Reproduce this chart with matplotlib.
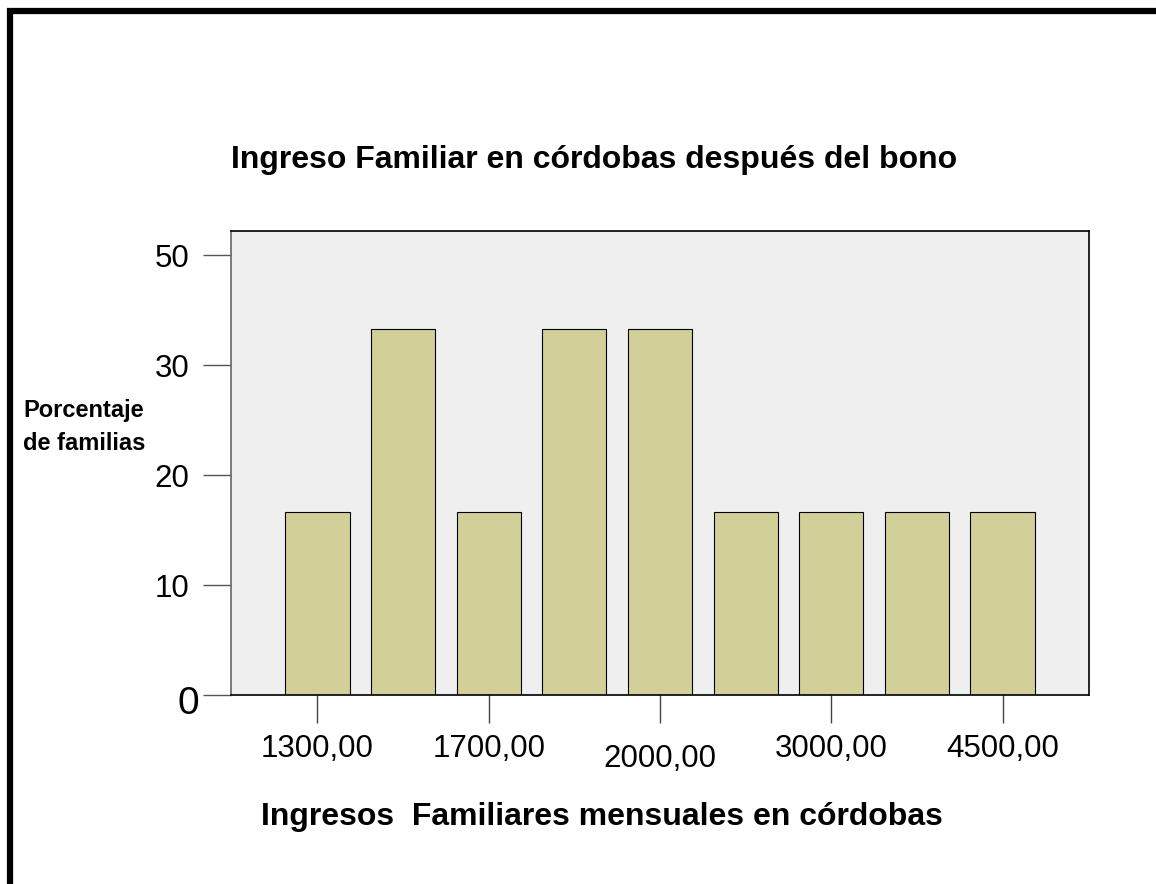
import matplotlib
matplotlib.use("Agg")
import matplotlib.pyplot as plt
from matplotlib.lines import Line2D
from matplotlib.transforms import ScaledTranslation

plt.rcParams['font.family'] = ['Liberation Sans', 'DejaVu Sans']

# porcentaje de familias por nivel de ingreso (9 barras)
percent = [16.67, 33.33, 16.67, 33.33, 33.33, 16.67, 16.67, 16.67, 16.67]
tick_pos = [0, 2, 4, 6, 8]
tick_labels = ["1300,00", "1700,00", "2000,00", "3000,00", "4500,00"]
y_ticks = [0, 10, 20, 30, 40]
y_labels = ["0", "10", "20", "30", "50"]

title = "Ingreso Familiar en córdobas después del bono"
x_title = "Ingresos  Familiares mensuales en córdobas"
y_title = "Porcentaje\nde familias"

W, H = 1156, 884
fig = plt.figure(figsize=(W / 100, H / 100), dpi=100)
ax = fig.add_axes([231 / W, 1 - 695 / H, (1089 - 231) / W, (695 - 231) / H])
ax.set_facecolor('#EFEFEF')

ax.bar(range(len(percent)), percent, width=0.75, color='#D3CF98',
       edgecolor='black', linewidth=0.8, zorder=2)

ax.set_xlim(-1.01, 9.01)
ax.set_ylim(0, 42.2)

ax.set_xticks(tick_pos)
ax.set_xticklabels(tick_labels, fontsize=22.5)
ax.set_yticks(y_ticks)
ax.set_yticklabels(y_labels, fontsize=22.5)
ax.tick_params(axis='x', length=20, width=1, color='#444', pad=8)
ax.tick_params(axis='y', length=20, width=1, color='#555', pad=10)

# the zero label is drawn larger, and 2000,00 sits a bit lower
ylbls = ax.get_yticklabels()
ylbls[0].set_fontsize(28)
ylbls[0].set_transform(ylbls[0].get_transform() + ScaledTranslation(0.10, -0.05, fig.dpi_scale_trans))
xlbls = ax.get_xticklabels()
xlbls[2].set_transform(xlbls[2].get_transform() + ScaledTranslation(0, -0.1, fig.dpi_scale_trans))

for side in ['top', 'right', 'bottom']:
    ax.spines[side].set_color('black')
    ax.spines[side].set_linewidth(1.2)
ax.spines['left'].set_color('#666')
ax.spines['left'].set_linewidth(1.2)

fig.text(594 / W, 1 - 168 / H, title, ha='center', va='baseline',
         fontsize=23, fontweight='bold')
fig.text(602 / W, 1 - 825 / H, x_title, ha='center', va='baseline',
         fontsize=23, fontweight='bold')
fig.text(23 / W, 1 - 427 / H, y_title, ha='left', va='center',
         fontsize=17, fontweight='bold', linespacing=1.55)

# black frame on the left and top edges
fig.add_artist(Line2D([10 / W, 10 / W], [0, 1 - 8 / H], color='black',
                      linewidth=4.5, solid_capstyle='butt', transform=fig.transFigure))
fig.add_artist(Line2D([7 / W, 1], [1 - 11 / H, 1 - 11 / H], color='black',
                      linewidth=4.5, solid_capstyle='butt', transform=fig.transFigure))

fig.savefig('out.png', dpi=100)
